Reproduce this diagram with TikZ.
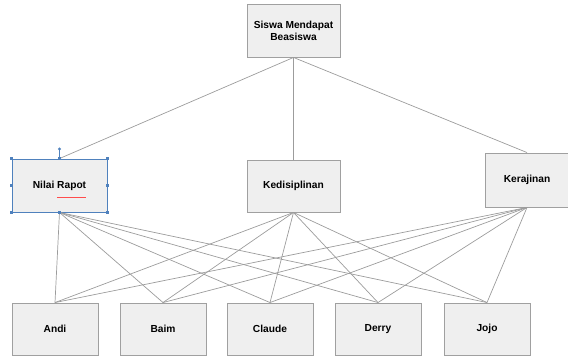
\documentclass[tikz,border=0pt]{standalone}
\usepackage{fontspec}
\setmainfont{Liberation Sans}
\definecolor{boxfill}{HTML}{EFEFEF}
\definecolor{boxline}{HTML}{A0A0A0}
\definecolor{edgeline}{HTML}{9C9C9C}
\definecolor{selblue}{HTML}{4F81BD}
\tikzset{
    kotak/.style={draw=boxline, fill=boxfill, line width=0.9pt, inner sep=0pt,
        font=\bfseries\fontsize{10.2}{11.8}\selectfont, align=center},
    garis/.style={draw=edgeline, line width=0.7pt},
    pegangan/.style={fill=selblue, minimum size=2.6pt, inner sep=0pt}
}
\begin{document}
\begin{tikzpicture}[x=1pt, y=-1pt]

    \useasboundingbox (0, 0) rectangle (568, 356);

    \node[kotak, minimum width=93pt, minimum height=53pt] (siswa) at (293.5, 30.5) {Siswa Mendapat\\Beasiswa};

    \node[kotak, draw=selblue, minimum width=95pt, minimum height=53pt] (rapot) at (59.5, 185.5) {Nilai Rapot};
    \node[kotak, minimum width=93pt, minimum height=52pt] (disiplin) at (293.5, 186) {Kedisiplinan};
    \node[kotak, minimum width=84pt, minimum height=54pt] (rajin) at (527, 180) {Kerajinan};

    \node[kotak, minimum width=86pt, minimum height=52pt] (andi) at (55, 329) {Andi};
    \node[kotak, minimum width=86pt, minimum height=52pt] (baim) at (163, 329) {Baim};
    \node[kotak, minimum width=86pt, minimum height=52pt] (claude) at (270, 329) {Claude};
    \node[kotak, minimum width=86pt, minimum height=52pt] (derry) at (378, 329) {Derry};
    \node[kotak, minimum width=86pt, minimum height=52pt] (jojo) at (487, 329) {Jojo};

    \draw[garis] (siswa.south) -- (rapot.north);
    \draw[garis] (siswa.south) -- (disiplin.north);
    \draw[garis] (siswa.south) -- (rajin.north);

    \foreach \atas in {rapot, disiplin, rajin}
        \foreach \bawah in {andi, baim, claude, derry, jojo}
            \draw[garis] (\atas.south) -- (\bawah.north);

    \coordinate (putar) at (59.5, 149);
    \draw[selblue, line width=0.5pt] (rapot.north) -- (putar);
    \node[pegangan, circle, minimum size=3.2pt] (putarh) at (putar) {};
    \foreach \titik in {north west, north, north east, east, south east, south, south west, west}
        \node[pegangan] at (rapot.\titik) {};

    \draw[red!70, line width=0.4pt] (57, 197) -- (86, 197);

\end{tikzpicture}
\end{document}
